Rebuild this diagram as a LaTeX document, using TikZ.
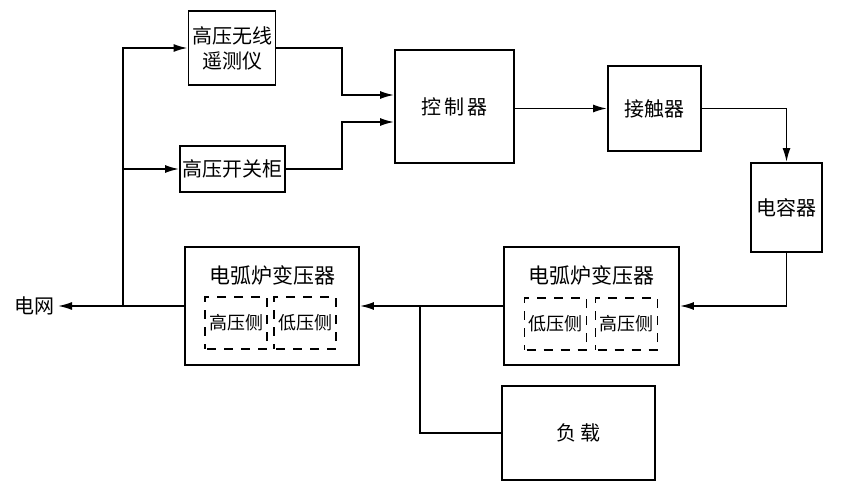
\documentclass[tikz,border=0pt]{standalone}
\usepackage{fontspec}
\setmainfont{Noto Sans CJK SC}
\usetikzlibrary{arrows.meta}
\tikzset{
    blk/.style={draw, line width=1.9pt, inner sep=1pt, align=center, font=\fontsize{20}{25}\selectfont},
    side/.style={draw, line width=1.3pt, dash pattern=on 9pt off 8pt, dash phase=-2pt,
        minimum width=62pt, minimum height=52pt, inner sep=0pt, font=\fontsize{18}{20}\selectfont},
    wire/.style={line width=1.7pt},
    arr/.style={wire, -{Latex[length=14pt,width=8pt]}},
}

\begin{document}
\begin{tikzpicture}[x=1pt, y=-1pt]
    \useasboundingbox (0,0) rectangle (849,500);

    % upper row
    \node[blk, minimum width=87pt, minimum height=74pt] (tele) at (232,48) {高压无线\\遥测仪};
    \node[blk, minimum width=105pt, minimum height=46pt] (swgr) at (232.5,169) {高压开关柜};
    \node[blk, minimum width=119pt, minimum height=113pt] (ctrl) at (454.5,106.5) {控\,制\,器};
    \node[blk, minimum width=93pt, minimum height=85pt] (cont) at (654.5,108.5) {接触器};
    \node[blk, minimum width=71pt, minimum height=89pt] (capa) at (786.5,207.5) {电容器};

    % transformers
    \node[blk, minimum width=174pt, minimum height=118pt] (ltr) at (272,306) {};
    \node[font=\fontsize{21}{24}\selectfont] (ltitle) at (272,275) {电弧炉变压器};
    \node[side] (lhv) at (236,323) {高压侧};
    \node[side] (llv) at (305,323) {低压侧};

    \node[blk, minimum width=175pt, minimum height=118pt] (rtr) at (591.5,306) {};
    \node[font=\fontsize{21}{24}\selectfont] (rtitle) at (591.5,275) {电弧炉变压器};
    \node[side] (rlv) at (555.5,324) {低压侧};
    \node[side] (rhv) at (626.5,324) {高压侧};

    \node[blk, minimum width=153pt, minimum height=94pt] (load) at (578.5,433) {负\,载};
    \node[font=\fontsize{20}{24}\selectfont, anchor=east] (grid) at (58,306) {电网};

    \coordinate (tap) at (123,306);
    \coordinate (tap2) at (420,306);

    % connectors
    \draw[arr] (ltr.west) -- (grid.east);
    \draw[arr] (tap) |- (tele.west);
    \draw[arr] (tap |- swgr.west) -- (swgr.west);
    \draw[arr] (tele.east) -- ++(65.5,0) |- ([yshift=11.5pt]ctrl.west);
    \draw[arr] (swgr.east) -- ++(56,0) |- ([yshift=-15.5pt]ctrl.west);
    \draw[arr] (ctrl.east |- cont.west) -- (cont.west);
    \draw[arr] (cont.east) -| (capa.north);
    \draw[arr] (capa.south) |- (rtr.east);
    \draw[arr] (rtr.west) -- (ltr.east);
    \draw[wire] (tap2) |- (load.west);
\end{tikzpicture}
\end{document}
